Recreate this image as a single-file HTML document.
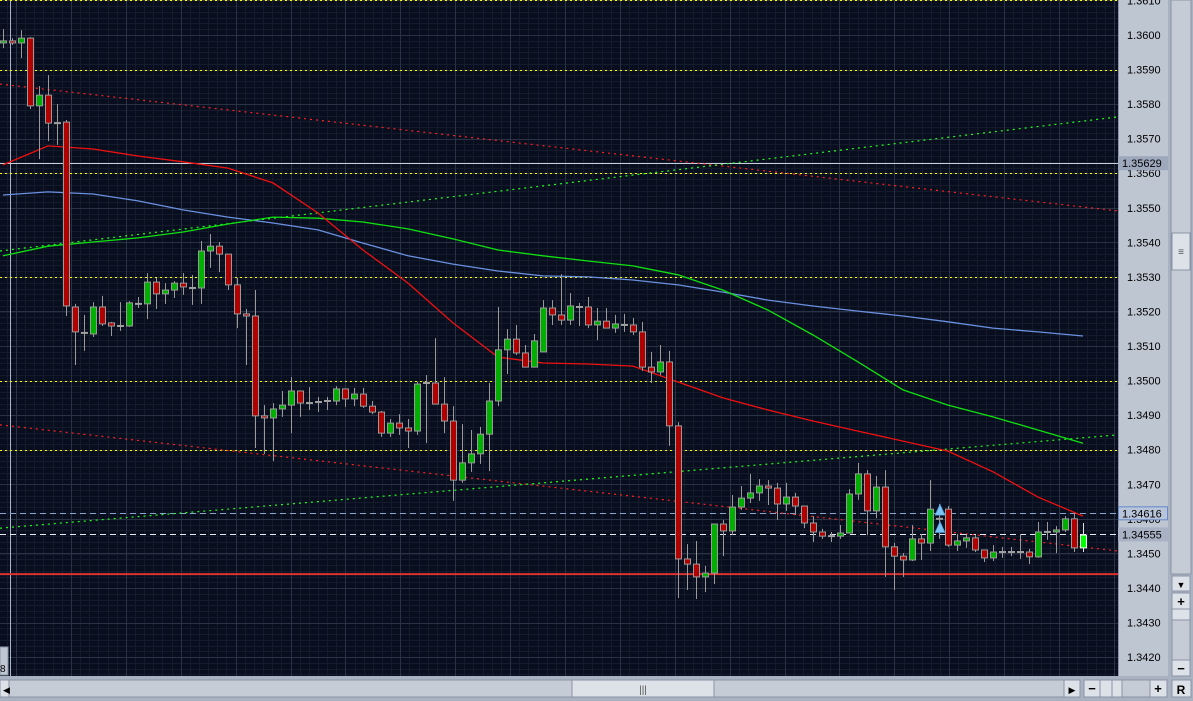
<!DOCTYPE html>
<html><head><meta charset="utf-8">
<style>
html,body{margin:0;padding:0;background:#0a1020;overflow:hidden}
svg{display:block}
text{font-family:"Liberation Sans",sans-serif}
</style></head>
<body>
<svg id="chart" width="1193" height="701" viewBox="0 0 1193 701" xmlns="http://www.w3.org/2000/svg">
<rect x="0" y="0" width="1118" height="676" fill="#080e1e"/>
<g id="grid"></g>
<g id="levels"></g>
<g id="trends"></g>
<g id="mas"></g>
<g id="candles"></g>
<g id="markers"></g>
<rect x="1118" y="0" width="50" height="676" fill="#bec6d2"/>
<line x1="1118.5" y1="0" x2="1118.5" y2="676" stroke="#8a94a6"/>
<g id="axis"></g>
<g>
<rect x="1168" y="0" width="25" height="701" fill="#a9b2c0"/>
<rect x="1171" y="0" width="20" height="574" fill="#c6ccd6" stroke="#8a94a6"/>
<rect x="1172" y="233" width="18" height="37" fill="#dde1e8" stroke="#8a94a6"/>
<text x="1181" y="255" font-size="10" text-anchor="middle" fill="#555">≡</text>
<rect x="1172" y="576" width="18" height="15" fill="#dde1e8" stroke="#8a94a6"/>
<text x="1181" y="588" font-size="9" text-anchor="middle" fill="#000">▼</text>
<rect x="1172" y="593" width="18" height="16" fill="#dde1e8" stroke="#8a94a6"/>
<text x="1181" y="606" font-size="13" font-weight="bold" text-anchor="middle" fill="#000">+</text>
<rect x="1172" y="609" width="18" height="11" fill="#dde1e8" stroke="#8a94a6"/>
<rect x="1172" y="620" width="18" height="40" fill="#c6ccd6" stroke="#8a94a6"/>
<rect x="1172" y="660" width="18" height="16" fill="#dde1e8" stroke="#8a94a6"/>
<text x="1181" y="673" font-size="13" font-weight="bold" text-anchor="middle" fill="#000">−</text>
</g>
<g>
<rect x="0" y="676" width="1168" height="25" fill="#a9b2c0"/>
<rect x="0" y="680" width="1064" height="17" fill="#c6ccd6" stroke="#8a94a6"/>
<rect x="0" y="680" width="9" height="17" fill="#dde1e8" stroke="#8a94a6"/>
<text x="3" y="693" font-size="9" fill="#000">◀</text>
<rect x="572" y="680" width="142" height="17" fill="#dde1e8" stroke="#8a94a6"/>
<text x="643" y="693" font-size="10" text-anchor="middle" fill="#555">|||</text>
<rect x="1064" y="680" width="16" height="17" fill="#dde1e8" stroke="#8a94a6"/>
<text x="1072" y="693" font-size="9" text-anchor="middle" fill="#000">▶</text>
<rect x="1084" y="680" width="16" height="17" fill="#dde1e8" stroke="#8a94a6"/>
<text x="1092" y="693" font-size="13" font-weight="bold" text-anchor="middle" fill="#000">−</text>
<rect x="1100" y="680" width="12" height="17" fill="#dde1e8" stroke="#8a94a6"/>
<rect x="1112" y="680" width="10" height="17" fill="#dde1e8" stroke="#8a94a6"/>
<rect x="1122" y="680" width="28" height="17" fill="#c6ccd6" stroke="#8a94a6"/>
<rect x="1150" y="680" width="17" height="17" fill="#dde1e8" stroke="#8a94a6"/>
<text x="1158" y="693" font-size="13" font-weight="bold" text-anchor="middle" fill="#000">+</text>
<rect x="1172" y="680" width="19" height="17" fill="#dde1e8" stroke="#8a94a6"/>
<text x="1181" y="694" font-size="12" font-weight="bold" text-anchor="middle" fill="#000">R</text>
</g>
<g>
<rect x="0" y="647" width="8" height="28" fill="#bec6d2" stroke="#8a94a6"/>
<text x="0" y="672" font-size="10" fill="#000">8</text>
</g>
</svg>
<script>
const opens=[1.35977,1.35983,1.35977,1.35991,1.35795,1.35826,1.35745,1.35748,1.35213,1.35138,1.35135,1.35213,1.35167,1.35158,1.35158,1.35222,1.35222,1.35285,1.35251,1.35262,1.35282,1.35268,1.35268,1.35375,1.35389,1.35366,1.35277,1.35193,1.35187,1.34898,1.34892,1.34918,1.34929,1.34970,1.34935,1.34938,1.34941,1.34941,1.34976,1.34947,1.34961,1.34926,1.34909,1.34848,1.34877,1.34863,1.34854,1.34993,1.34993,1.34932,1.34883,1.34712,1.34762,1.34788,1.34845,1.34941,1.35089,1.35120,1.35080,1.35039,1.35083,1.35210,1.35190,1.35175,1.35213,1.35213,1.35161,1.35172,1.35152,1.35161,1.35161,1.35141,1.35039,1.35025,1.35054,1.34869,1.34484,1.34469,1.34432,1.34443,1.34585,1.34565,1.34634,1.34660,1.34675,1.34695,1.34689,1.34643,1.34663,1.34637,1.34588,1.34562,1.34550,1.34550,1.34559,1.34672,1.34730,1.34623,1.34692,1.34519,1.34492,1.34481,1.34542,1.34530,1.34600,1.34628,1.34524,1.34536,1.34545,1.34510,1.34487,1.34504,1.34504,1.34504,1.34504,1.34490,1.34562,1.34562,1.34568,1.34600,1.34516];
const highs=[1.36017,1.35991,1.36014,1.35994,1.35852,1.35884,1.35800,1.35754,1.35222,1.35190,1.35227,1.35245,1.35170,1.35227,1.35230,1.35242,1.35311,1.35297,1.35282,1.35288,1.35311,1.35306,1.35404,1.35424,1.35401,1.35366,1.35297,1.35207,1.35262,1.34929,1.34935,1.34970,1.35010,1.34970,1.34981,1.34953,1.34953,1.34984,1.34976,1.34979,1.34979,1.34941,1.34912,1.34889,1.34903,1.34889,1.34996,1.35016,1.35123,1.35010,1.34926,1.34874,1.34857,1.34866,1.34993,1.35213,1.35149,1.35161,1.35103,1.35135,1.35233,1.35233,1.35308,1.35253,1.35225,1.35242,1.35210,1.35210,1.35190,1.35193,1.35181,1.35170,1.35083,1.35103,1.35086,1.34880,1.34527,1.34536,1.34464,1.34585,1.34597,1.34669,1.34695,1.34730,1.34715,1.34712,1.34704,1.34704,1.34675,1.34637,1.34608,1.34571,1.34562,1.34582,1.34686,1.34762,1.34741,1.34724,1.34741,1.34530,1.34501,1.34582,1.34556,1.34712,1.34643,1.34637,1.34556,1.34556,1.34553,1.34510,1.34524,1.34519,1.34519,1.34556,1.34513,1.34591,1.34591,1.34579,1.34608,1.34617,1.34588];
const lows=[1.35962,1.35971,1.35933,1.35786,1.35641,1.35693,1.35682,1.35187,1.35045,1.35086,1.35126,1.35158,1.35129,1.35144,1.35155,1.35210,1.35178,1.35207,1.35222,1.35239,1.35248,1.35219,1.35222,1.35326,1.35314,1.35262,1.35152,1.35045,1.34805,1.34788,1.34767,1.34895,1.34848,1.34895,1.34915,1.34909,1.34915,1.34929,1.34924,1.34926,1.34921,1.34903,1.34837,1.34837,1.34843,1.34805,1.34843,1.34819,1.34932,1.34848,1.34652,1.34704,1.34736,1.34759,1.34738,1.34926,1.35019,1.35074,1.35039,1.35039,1.35083,1.35161,1.35161,1.35161,1.35158,1.35152,1.35117,1.35152,1.35138,1.35141,1.35132,1.35028,1.34993,1.35016,1.34811,1.34371,1.34394,1.34368,1.34388,1.34411,1.34492,1.34553,1.34626,1.34646,1.34652,1.34640,1.34597,1.34623,1.34611,1.34573,1.34533,1.34542,1.34533,1.34542,1.34559,1.34655,1.34553,1.34602,1.34432,1.34394,1.34432,1.34478,1.34481,1.34507,1.34542,1.34519,1.34507,1.34516,1.34504,1.34475,1.34478,1.34487,1.34492,1.34484,1.34469,1.34487,1.34539,1.34501,1.34562,1.34504,1.34504];
const closes=[1.35983,1.35977,1.35991,1.35795,1.35826,1.35745,1.35745,1.35216,1.35141,1.35138,1.35213,1.35164,1.35158,1.35158,1.35225,1.35222,1.35285,1.35251,1.35262,1.35282,1.35271,1.35268,1.35375,1.35389,1.35366,1.35277,1.35193,1.35187,1.34898,1.34892,1.34918,1.34929,1.34970,1.34935,1.34935,1.34938,1.34941,1.34976,1.34947,1.34961,1.34926,1.34909,1.34848,1.34877,1.34863,1.34854,1.34990,1.34993,1.34932,1.34883,1.34712,1.34762,1.34788,1.34845,1.34941,1.35089,1.35120,1.35080,1.35039,1.35115,1.35210,1.35190,1.35175,1.35216,1.35213,1.35161,1.35172,1.35152,1.35164,1.35161,1.35141,1.35039,1.35025,1.35054,1.34869,1.34484,1.34469,1.34432,1.34443,1.34585,1.34565,1.34634,1.34660,1.34675,1.34695,1.34689,1.34643,1.34663,1.34637,1.34588,1.34562,1.34550,1.34550,1.34559,1.34672,1.34730,1.34623,1.34692,1.34519,1.34492,1.34481,1.34542,1.34530,1.34628,1.34600,1.34524,1.34536,1.34545,1.34510,1.34487,1.34504,1.34504,1.34504,1.34504,1.34490,1.34562,1.34562,1.34568,1.34600,1.34516,1.34553];
const maIndex=[0,5,10,15,20,25,30,35,40,45,50,55,60,65,70,75,80,85,90,95,100,105,110,115,120];
const maRed=[1.35624,1.35679,1.35670,1.35650,1.35633,1.35615,1.35572,1.35485,1.35378,1.35282,1.35167,1.35068,1.35051,1.35048,1.35042,1.34996,1.34950,1.34915,1.34883,1.34854,1.34825,1.34796,1.34736,1.34663,1.34608];
const maBlue=[1.35537,1.35546,1.35540,1.35520,1.35494,1.35473,1.35456,1.35436,1.35398,1.35361,1.35337,1.35317,1.35303,1.35300,1.35291,1.35277,1.35256,1.35233,1.35216,1.35201,1.35187,1.35170,1.35152,1.35141,1.35129];
const maGreen=[1.35361,1.35389,1.35401,1.35413,1.35430,1.35453,1.35473,1.35470,1.35459,1.35439,1.35410,1.35378,1.35361,1.35346,1.35332,1.35306,1.35262,1.35204,1.35132,1.35054,1.34973,1.34929,1.34895,1.34857,1.34819];
const levelYellow=[1.3610,1.3590,1.3560,1.3530,1.3500,1.3480];
const levelWhite=1.35629, levelRed=1.34440, levelBid=1.34555, levelAsk=1.34616;
const trendRedUpper=[1.35858,1.35491];
const trendRedLower=[1.34872,1.34507];
const trendGreenUpper=[1.35375,1.35763];
const trendGreenLower=[1.34573,1.34843];
const axisTicks=["1.3610","1.3600","1.3590","1.3580","1.3570","1.3560","1.3550","1.3540","1.3530","1.3520","1.3510","1.3500","1.3490","1.3480","1.3470","1.3460","1.3450","1.3440","1.3430","1.3420"];
const markerIndex=[104,104];
const markerPrice=[1.34625,1.34575];

const NS="http://www.w3.org/2000/svg";
const W=1118,H=676;
function y(p){return 35+(1.36-p)*34560;}
function x(i){return 3+9*i;}
function xr(frac){return frac*W;}
function mk(tag,attrs,parent){const e=document.createElementNS(NS,tag);for(const k in attrs)e.setAttribute(k,attrs[k]);parent.appendChild(e);return e;}
const g=id=>document.getElementById(id);

// grid
const grid=g('grid');
for(let gx=16-54.9*0.5;gx<W;gx+=9.15){
  const l=mk('line',{x1:Math.round(gx)+.5,y1:0,x2:Math.round(gx)+.5,y2:H,stroke:'#141b2c','stroke-width':1},grid);
  
  
}
for(let p=1.3615;p>1.3410;p-=0.0001667){
  const l=mk('line',{x1:0,y1:Math.round(y(p))+.5,x2:W,y2:Math.round(y(p))+.5,stroke:'#141b2c','stroke-width':1},grid);
  
  
}
for(let gx=16;gx<W;gx+=54.9){
  const l=mk('line',{x1:Math.round(gx)+.5,y1:0,x2:Math.round(gx)+.5,y2:H,stroke:'#2a3345','stroke-width':1},grid);
  
  
}
axisTicks.forEach(t=>{
  const yy=Math.round(y(parseFloat(t)))+.5;
  const l=mk('line',{x1:0,y1:yy,x2:W,y2:yy,stroke:'#2a3345','stroke-width':1},grid);
  
  
});
const sep=mk('line',{x1:10.5,y1:0,x2:10.5,y2:H,stroke:'#a8b6cc','stroke-width':1},grid);



// levels
const lv=g('levels');
levelYellow.forEach(p=>{
  const l=mk('line',{x1:0,y1:Math.round(y(p))+.5,x2:W,y2:Math.round(y(p))+.5,stroke:'#ffff00','stroke-width':1,'stroke-dasharray':'2,3'},lv);
  
  
});
let l1=mk('line',{x1:0,y1:Math.round(y(levelWhite))+.5,x2:W,y2:Math.round(y(levelWhite))+.5,stroke:'#c8d0dc','stroke-width':1},lv);


let l2=mk('line',{x1:0,y1:y(levelRed),x2:W,y2:y(levelRed),stroke:'#e03030','stroke-width':2},lv);


let l3=mk('line',{x1:0,y1:Math.round(y(levelAsk))+.5,x2:W,y2:Math.round(y(levelAsk))+.5,stroke:'#8aa4d0','stroke-width':1,'stroke-dasharray':'6,4'},lv);


let l4=mk('line',{x1:0,y1:Math.round(y(levelBid))+.5,x2:W,y2:Math.round(y(levelBid))+.5,stroke:'#e8ecf4','stroke-width':1,'stroke-dasharray':'6,4'},lv);



// trend lines
const tr=g('trends');
[[trendRedUpper,'#ff2020','red-trend-upper'],[trendRedLower,'#ff2020','red-trend-lower'],[trendGreenUpper,'#20ff20','green-trend-upper'],[trendGreenLower,'#20ff20','green-trend-lower']].forEach(([a,c,n])=>{
  const l=mk('line',{x1:0,y1:y(a[0]),x2:W,y2:y(a[1]),stroke:c,'stroke-width':1.2,'stroke-dasharray':'2,4'},tr);
  
  
});

// moving averages
const ma=g('mas');
[[maBlue,'#6a90e0','ma-blue'],[maGreen,'#10e010','ma-green'],[maRed,'#f01010','ma-red']].forEach(([a,c,n])=>{
  const pts=a.map((v,k)=>x(maIndex[k])+','+y(v).toFixed(1)).join(' ');
  const pl=mk('polyline',{points:pts,fill:'none',stroke:c,'stroke-width':1.3},ma);
  
  
});

// candles
const cg=g('candles');
opens.forEach((o,i)=>{
  const c=closes[i],h=highs[i],lo=lows[i];
  const cx=Math.round(x(i))+.5;
  const grp=mk('g',{},cg);
  
  
  const last=i===opens.length-1;
  mk('line',{x1:cx,y1:y(h),x2:cx,y2:y(lo),stroke:last?'#e0e0e0':'#9a9a9a','stroke-width':1},grp);
  const top=y(Math.max(o,c)),bot=y(Math.min(o,c));
  if(Math.abs(c-o)<0.00004){
    mk('rect',{x:cx-3.5,y:(top+bot)/2-1,width:7,height:2,fill:'#a0a0a0'},grp);
  }else{
    const up=c>o;
    mk('rect',{x:cx-3,y:top,width:6,height:Math.max(bot-top,2),fill:last?'#00ff00':(up?'#00b000':'#b00000'),stroke:last?'#f0f0f0':'#9a9a9a','stroke-width':1},grp);
  }
});

// markers
const mg=g('markers');
markerIndex.forEach((mi,k)=>{
  const mx=x(mi)+1,my=y(markerPrice[k]);
  const t=mk('polygon',{points:`${mx-5},${my+5} ${mx+5},${my+5} ${mx},${my-6}`,fill:'#7cc4f4',stroke:'#4a90d0','stroke-width':0.7},mg);
  
  
});

// axis
const ax=g('axis');
axisTicks.forEach(t=>{
  const tx=mk('text',{x:1127,y:y(parseFloat(t))+4,'font-size':11,fill:'#000'},ax);
  tx.textContent=t;
  
  
});
[[levelWhite,'1.35629','#9ea8bc','#9ea8bc','white-level-label'],[levelAsk,'1.34616','#b8c4d8','#6688cc','ask-price-label'],[levelBid,'1.34555','#a8b2c4','#a8b2c4','bid-price-label']].forEach(([p,s,f,st,n])=>{
  const yy=y(p);
  const b=mk('rect',{x:1118.5,y:yy-6.5,width:49,height:13,fill:f,stroke:st},ax);
  
  
  const tx=mk('text',{x:1122,y:yy+4,'font-size':11,fill:'#000'},ax);
  tx.textContent=s;
  
  
});
</script>
</body></html>
